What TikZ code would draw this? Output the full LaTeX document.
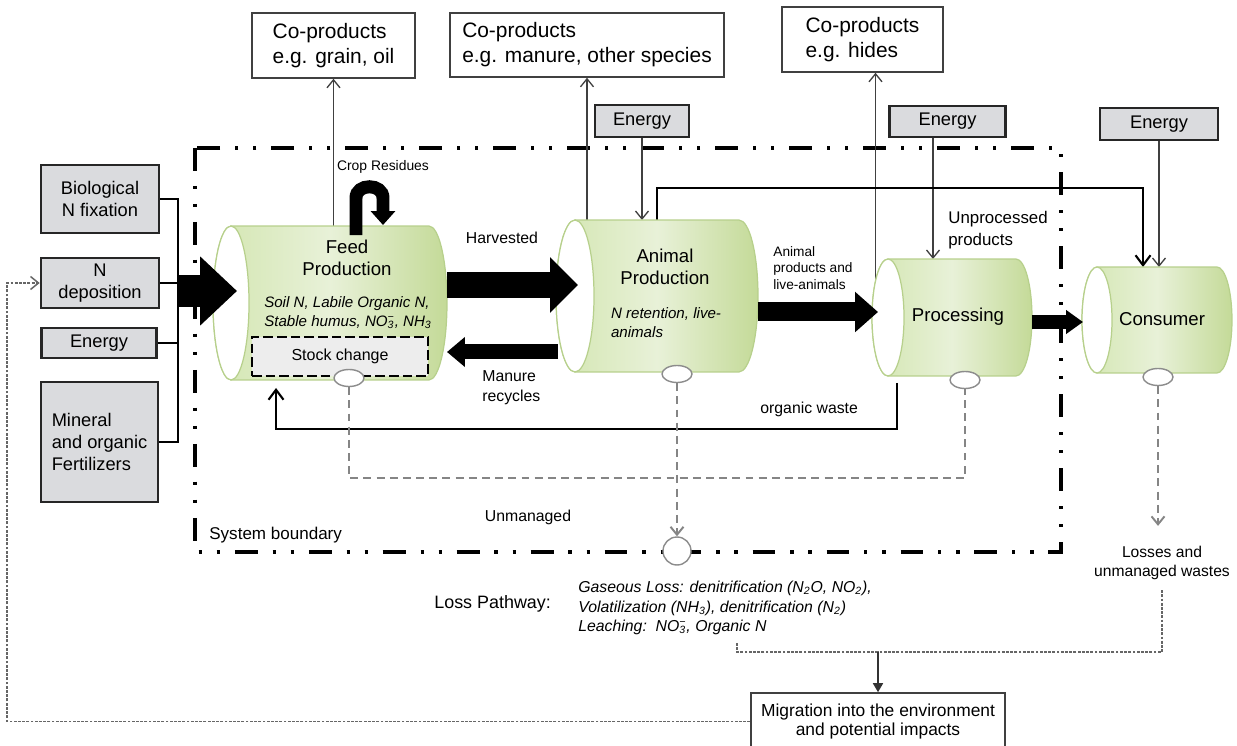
\documentclass[tikz,border=0pt]{standalone}
\usepackage{amsmath}
\usepackage{fontspec}
\setmainfont{Liberation Sans}
\usetikzlibrary{arrows.meta,positioning,calc,shapes.geometric}
\definecolor{srcgray}{HTML}{DADBDE}
\definecolor{stockgray}{HTML}{EDEDED}
\definecolor{drumedge}{HTML}{B7D08C}
\definecolor{drumleft}{HTML}{D3E6B1}
\definecolor{drummid}{HTML}{E8F1D8}
\definecolor{drumright}{HTML}{C4DA98}
\definecolor{lossgray}{HTML}{858585}
\newcommand\fsz[2]{\fontsize{#1}{#2}\selectfont}
\newcommand\ionz[2]{\rlap{\textsubscript{#1}}\textsuperscript{#2}}

% drum with its open end on the left: #1 node, #2 end radius, #3 half height
\newcommand\drum[3]{%
 \shadedraw[draw=drumedge, line width=0.7pt, left color=drumleft, right color=drumright, middle color=drummid]
  ([xshift=#2]#1.north west) -- ([xshift=-#2]#1.north east)
  arc[start angle=90, end angle=-90, x radius=#2, y radius=#3]
  -- ([xshift=#2]#1.south west)
  arc[start angle=270, end angle=90, x radius=#2, y radius=#3] -- cycle;
 \draw[drumedge, line width=0.7pt, fill=white] ([xshift=#2]#1.west) ellipse [x radius=#2, y radius=#3];
}

\tikzset{
 srcbox/.style={draw=black!85, line width=1.5pt, fill=srcgray, inner sep=0pt, align=center, font=\fsz{10.4}{12.5}},
 cpbox/.style={draw=black!75, line width=0.9pt, fill=white, inner sep=0pt, align=left, font=\fsz{11.9}{14.3}},
 drumspace/.style={inner sep=0pt, outer sep=0pt},
 drumtitle/.style={inner sep=0pt, align=center, font=\fsz{10.6}{12.2}},
 drumnote/.style={inner sep=0pt, align=left, font=\fsz{8.6}{10.8}\itshape},
 flowlabel/.style={inner sep=0pt, align=left, font=\fsz{9}{11.3}},
 stockbox/.style={draw=black, line width=1.6pt, dash pattern=on 5.5pt off 2.3pt, fill=stockgray, inner sep=0pt,
   minimum width=3.52cm, minimum height=0.78cm, font=\fsz{9.1}{11}},
 hole/.style={ellipse, draw=black!45, line width=0.8pt, fill=white, minimum width=0.6cm, minimum height=0.34cm, inner sep=0pt},
 boundary/.style={line width=2.3pt, dash pattern=on 13pt off 8.5pt on 1.8pt off 8.5pt on 1.8pt off 8.5pt},
 busline/.style={line width=1.7pt},
 bigflow/.style n args={3}{line width=#1, -{Triangle[length=#3,width=#2]}},
 thinflow/.style={draw=black!75, line width=0.75pt, -{Straight Barb[length=1.6mm,width=2.6mm]}},
 midflow/.style={line width=1.2pt, -{Straight Barb[length=2mm,width=3mm]}},
 lossline/.style={draw=lossgray, line width=1.1pt, dash pattern=on 4.5pt off 3pt},
 drainline/.style={draw=black!60, line width=0.85pt, dash pattern=on 1.6pt off 0.8pt},
}

\begin{document}
\begin{tikzpicture}[x=0.02cm, y=-0.02cm]
 \useasboundingbox (0,0) rectangle (1237,746);
 \draw[boundary] (195,148) rectangle (1061,552);

 % N sources on the left
 \node[srcbox, minimum width=2.36cm, minimum height=1.36cm] (fix) at (100,199) {Biological\\N fixation};
 \node[srcbox, minimum width=2.36cm, minimum height=1cm] (dep) at (100,283) {N\\deposition};
 \node[srcbox, minimum width=2.3cm, minimum height=0.6cm] (enL) at (99,343) {Energy};
 \node[srcbox, align=left, minimum width=2.34cm, minimum height=2.4cm] (fert) at (99.5,442) {Mineral\\and organic\\Fertilizers};
 \coordinate (bus) at (178,291);

 % co-products and energy along the top
 \node[cpbox, minimum width=3.26cm, minimum height=1.3cm] (cpA) at (333.5,45.5) {Co-products\\e.g. grain, oil};
 \node[cpbox, minimum width=5.48cm, minimum height=1.28cm] (cpB) at (587,45) {Co-products\\e.g. manure, other species};
 \node[cpbox, minimum width=3.22cm, minimum height=1.3cm] (cpC) at (862.5,39.5) {Co-products\\e.g. hides};
 \node[srcbox, minimum width=1.88cm, minimum height=0.64cm] (enA) at (642,121) {Energy};
 \node[srcbox, minimum width=2.32cm, minimum height=0.62cm] (enB) at (947.5,121.5) {Energy};
 \node[srcbox, minimum width=2.36cm, minimum height=0.64cm] (enC) at (1159,124) {Energy};

 % room for the four drums
 \node[drumspace, minimum width=4.68cm, minimum height=3.08cm] (feed) at (330,303) {};
 \node[drumspace, minimum width=4.04cm, minimum height=3.04cm] (animal) at (657,296) {};
 \node[drumspace, minimum width=3.2cm, minimum height=2.34cm] (proc) at (952,317.5) {};
 \node[drumspace, minimum width=3cm, minimum height=2.12cm] (cons) at (1157,320) {};

 % thin links first, drums go on top
 \draw[busline] (fix.east) -- (fix.east -| bus) -- (fert.east -| bus) -- (fert.east);
 \draw[busline] (dep.east) -- (dep.east -| bus);
 \draw[busline] (enL.east) -- (enL.east -| bus);
 \draw[thinflow] (cpA.south |- feed.north) -- (cpA.south);
 \draw[thinflow] (cpB.south |- animal.north) -- (cpB.south);
 \draw[thinflow] ([xshift=2.6mm]cpC.south |- proc.center) -- ([xshift=2.6mm]cpC.south);
 \draw[thinflow] (enA.south) -- (enA.south |- animal.north);
 \draw[thinflow] ([xshift=-2.9mm]enB.south) -- ([xshift=-2.9mm]enB.south |- proc.north);
 \draw[thinflow] (enC.south) -- (enC.south |- cons.north);
 \draw[midflow] (animal.north) -- ++(0,-32) -| ([xshift=-2.8mm]cons.north);
 \draw[midflow] ([xshift=-11mm,yshift=-1.4mm]proc.south) -- ++(0,46) -| ([xshift=-10.8mm,yshift=-1.6mm]feed.south);

 \drum{feed}{0.36cm}{1.54cm}
 \drum{animal}{0.38cm}{1.52cm}
 \drum{proc}{0.32cm}{1.17cm}
 \drum{cons}{0.3cm}{1.06cm}

 % drum contents
 \node[drumtitle] (feedname) at (347,258) {Feed\\Production};
 \node[drumnote] (feednote) at (348,313) {Soil N, Labile Organic N,\\Stable humus, NO\ionz{3}{−}, NH\textsubscript{3}};
 \node[stockbox] (stock) at (340,356.5) {Stock change};
 \node[drumtitle] (animalname) at (665,267) {Animal\\Production};
 \node[drumnote] (animalnote) at (666,322.5) {N retention, live-\\animals};
 \node[drumtitle] (procname) at (958,317) {Processing};
 \node[drumtitle] (consname) at (1162,319) {Consumer};
 \node[hole] (feedhole) at (349,378) {};
 \node[hole] (animalhole) at (677,374) {};
 \node[hole] (prochole) at (965,380) {};
 \node[hole] (conshole) at (1158,377) {};

 % main N flows
 \draw[bigflow={6.4mm}{13.4mm}{7.4mm}] (bus) -- ([xshift=4.8mm]feed.west |- bus);
 \draw[bigflow={5.2mm}{10.8mm}{5.6mm}] ([yshift=3.6mm]feed.east) -- ([xshift=4.4mm,yshift=3.6mm]animal.west |- feed.east);
 \draw[bigflow={3mm}{5.8mm}{3.6mm}] ([xshift=0.4mm,yshift=-11.2mm]animal.west) -- ([yshift=-11.2mm]feed.east |- animal.west);
 \draw[bigflow={3.8mm}{7.8mm}{4.6mm}] ([yshift=-3.2mm]animal.east) -- ([xshift=1.2mm,yshift=-3.2mm]proc.west |- animal.east);
 \draw[bigflow={2.8mm}{4.6mm}{3.4mm}] ([yshift=-0.9mm]proc.east) -- ([xshift=0.2mm,yshift=-0.9mm]cons.west |- proc.east);
 \draw[line width=2.6mm, -{Triangle[length=2.8mm,width=4.8mm]}] ([xshift=5.2mm,yshift=-1.8mm]feed.north)
   -- ++(0,-37) .. controls +(0,-15) and +(0,-15) .. ++(27,0) -- ++(0,27);

 % flow labels
 \node[flowlabel, font=\fsz{7.9}{9.5}] (crop) at (383,167) {Crop Residues};
 \node[flowlabel] (harv) at (502,238) {Harvested};
 \node[flowlabel, anchor=west] (manure) at (482,388) {Manure\\recycles};
 \node[flowlabel, anchor=west, font=\fsz{7.8}{9.6}] (aniprod) at (773,268) {Animal\\products and\\live-animals};
 \node[flowlabel, anchor=west, font=\fsz{9.6}{12.5}] (unproc) at (948,230) {Unprocessed\\products};
 \node[flowlabel, anchor=west] (waste) at (760,409) {organic waste};
 \node[flowlabel] (unman) at (528,517) {Unmanaged};
 \node[flowlabel, anchor=west, font=\fsz{9.7}{11.5}] (sysb) at (209,535) {System boundary};

 % losses leaving the system
 \node[circle, draw=black!45, line width=0.8pt, fill=white, minimum size=0.56cm, inner sep=0pt] (sink) at (677,551) {};
 \node[flowlabel, anchor=west, font=\fsz{10.2}{12}] (losspath) at (434,604) {Loss Pathway:};
 \node[flowlabel, anchor=west, font=\fsz{9}{11.3}\itshape] (lossnote) at (578,608)
   {Gaseous Loss: denitrification (N\textsubscript{2}O, NO\textsubscript{2}),\\Volatilization (NH\textsubscript{3}), denitrification (N\textsubscript{2})\\Leaching:\ \ NO\ionz{3}{−}, Organic N};
 \node[flowlabel, align=center, font=\fsz{8.9}{10.8}] (losses) at (1162,563) {Losses and\\unmanaged wastes};
 \node[cpbox, align=center, font=\fsz{9.9}{11}, minimum width=5.08cm, minimum height=1.14cm] (migr) at (878,721.5)
   {Migration into the environment\\and potential impacts};
 \coordinate (join) at (878,652);
 \coordinate (tail) at (737,643);

 \draw[lossline] (feedhole.south) -- ++(0,91) -| (prochole.south);
 \draw[lossline, -{Straight Barb[length=1.6mm,width=2.6mm]}] (animalhole.south) -- (sink.north);
 \draw[lossline, -{Straight Barb[length=1.6mm,width=2.6mm]}] (conshole.south) -- ([yshift=4mm]conshole.south |- losses.north);
 \draw[drainline] ([yshift=-2mm]losses.south) |- (join) -| (tail);
 \draw[line width=0.9pt, black!80, -{Triangle[length=1.8mm,width=2mm]}] (join) -- (migr.north);
 \draw[drainline, -{Straight Barb[length=1.6mm,width=2.6mm]}] (migr.west) -- ++(-743,0) |- (dep.west);
\end{tikzpicture}
\end{document}
